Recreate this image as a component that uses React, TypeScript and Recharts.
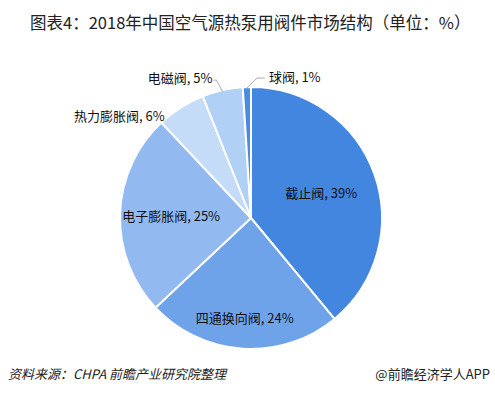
import { PieChart, Pie, Cell } from "recharts";

const valveNames = ["截止阀", "四通换向阀", "电子膨胀阀", "热力膨胀阀", "电磁阀", "球阀"];
const valveShares = [39, 24, 25, 6, 5, 1];
const sliceColors = ["#4286e0", "#6ea3ea", "#92baf0", "#c5dcf8", "#b1d0f5", "#4a8ae0"];

const data = valveNames.map((name, i) => ({ name, value: valveShares[i] }));

const RAD = Math.PI / 180;
const font = '"Noto Sans CJK SC", "Noto Sans", sans-serif';

// inside labels sit at a fraction of the radius, outside ones get a leader line
const insideRatio: Record<number, number> = { 0: 0.57, 1: 0.76, 2: 0.61 };

const renderLabel = (props: any) => {
  const { cx, cy, midAngle, outerRadius, index, name, value } = props;
  const text = `${name}, ${value}%`;
  const cos = Math.cos(-midAngle * RAD);
  const sin = Math.sin(-midAngle * RAD);
  if (insideRatio[index] !== undefined) {
    const r = outerRadius * insideRatio[index];
    return (
      <text x={cx + r * cos} y={cy + r * sin} textAnchor="middle" dominantBaseline="central"
        fill="#111" fontSize={13} fontFamily={font}>
        {text}
      </text>
    );
  }
  const ex = cx + outerRadius * cos;
  const ey = cy + outerRadius * sin;
  if (index === 3) {
    return (
      <text x={ex - 16} y={ey + 8} textAnchor="end" dominantBaseline="central"
        fill="#111" fontSize={13} fontFamily={font}>
        {text}
      </text>
    );
  }
  if (index === 4) {
    const mx = ex - 6;
    const my = ey - 10;
    return (
      <g>
        <polyline points={`${ex},${ey + 1} ${mx},${my} ${mx - 3},${my}`} fill="none" stroke="#aaa" strokeWidth={1} />
        <text x={mx - 4} y={my - 3} textAnchor="end" dominantBaseline="central"
          fill="#111" fontSize={13} fontFamily={font}>
          {text}
        </text>
      </g>
    );
  }
  const mx = ex + 10;
  const my = ey - 9;
  return (
    <g>
      <polyline points={`${ex},${ey + 1} ${mx},${my} ${mx + 8},${my}`} fill="none" stroke="#aaa" strokeWidth={1} />
      <text x={mx + 12} y={my - 2} textAnchor="start" dominantBaseline="central"
        fill="#111" fontSize={13} fontFamily={font}>
        {text}
      </text>
    </g>
  );
};

export default function App() {
  return (
    <div style={{ position: "absolute", left: 0, top: 0, width: 495, height: 397, background: "#fff", fontFamily: font }}>
      <div style={{ position: "absolute", left: 30, top: 10, fontSize: 16.5, color: "#222", whiteSpace: "nowrap" }}>
        图表4：2018年中国空气源热泵用阀件市场结构（单位：%）
      </div>
      <PieChart width={495} height={397}>
        <Pie
          data={data}
          dataKey="value"
          nameKey="name"
          cx={246}
          cy={213}
          outerRadius={131}
          startAngle={90}
          endAngle={-270}
          stroke="#fff"
          strokeWidth={2}
          labelLine={false}
          label={renderLabel}
          isAnimationActive={false}
        >
          {data.map((d, i) => (
            <Cell key={d.name} fill={sliceColors[i]} />
          ))}
        </Pie>
      </PieChart>
      <div style={{ position: "absolute", left: 8, top: 364, fontSize: 13, fontStyle: "italic", color: "#222", whiteSpace: "nowrap" }}>
        资料来源：CHPA 前瞻产业研究院整理
      </div>
      <div style={{ position: "absolute", right: 5, top: 364, fontSize: 13, color: "#222", whiteSpace: "nowrap" }}>
        @前瞻经济学人APP
      </div>
    </div>
  );
}
